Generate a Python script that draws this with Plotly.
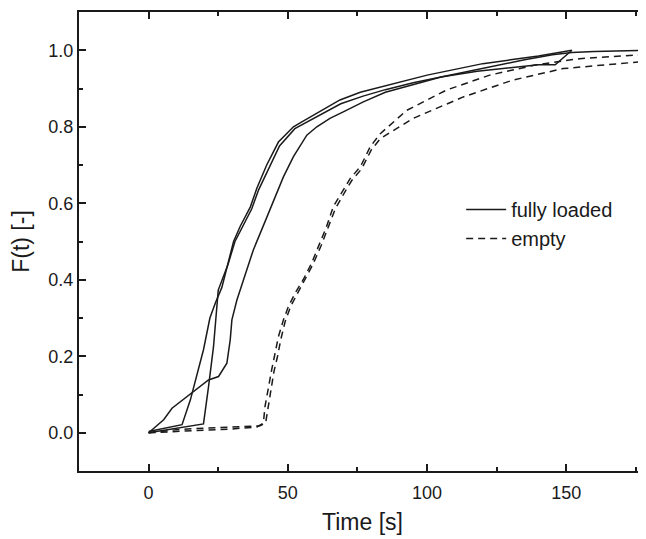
import plotly.graph_objects as go

# Fully loaded runs
t_s1 = [0, 12, 15, 17.3, 19.7, 22, 24, 26.3, 28.1, 30.5, 32.9, 36.5, 38.9, 42.4, 46.6, 52, 54.4, 60.4,
        68.7, 76, 84, 92, 100, 110, 120, 130, 140, 152]
f_s1 = [0.003, 0.021, 0.086, 0.147, 0.217, 0.30, 0.34, 0.38, 0.43, 0.50, 0.54, 0.59, 0.64, 0.70, 0.76,
        0.80, 0.81, 0.835, 0.87, 0.89, 0.905, 0.92, 0.935, 0.95, 0.965, 0.975, 0.985, 1.0]

t_s2 = [0, 10, 19.7, 21.5, 23.3, 25, 26.3, 28.5, 31, 33.5, 37, 39.5, 43, 47, 52.5, 55, 61, 69, 77, 85,
        95, 105, 118, 130, 140, 146, 152]
f_s2 = [0.0, 0.012, 0.023, 0.12, 0.225, 0.373, 0.40, 0.44, 0.50, 0.535, 0.585, 0.635, 0.69, 0.75, 0.795,
        0.805, 0.83, 0.86, 0.88, 0.897, 0.915, 0.93, 0.945, 0.955, 0.962, 0.962, 1.0]

t_s3 = [0, 2, 5.4, 8.4, 13, 17.9, 21.5, 25.1, 28.1, 29.3, 29.9, 31.7, 34.7, 37.6, 41.8, 44.8, 48.4, 52,
        56.8, 60.4, 65.1, 69.9, 77.1, 85, 95, 105, 115, 125, 135, 145, 152, 160, 170, 180]
f_s3 = [0.0, 0.012, 0.034, 0.064, 0.09, 0.117, 0.138, 0.147, 0.182, 0.243, 0.295, 0.347, 0.417, 0.478,
        0.552, 0.604, 0.669, 0.722, 0.778, 0.80, 0.822, 0.839, 0.865, 0.89, 0.91, 0.93, 0.945, 0.96,
        0.975, 0.988, 0.994, 0.997, 0.999, 1.0]

# Empty runs
t_d1 = [0, 10, 20, 30, 38.9, 41.2, 41.8, 43, 44.2, 45.4, 46.6, 48.4, 50.2, 52.6, 55.5, 58.5, 61.5, 63.9,
        66.3, 69.9, 72.4, 76, 79.6, 83.2, 92.7, 107, 122.5, 139.2, 154.8, 176.3, 180]
f_d1 = [0.0, 0.003, 0.006, 0.01, 0.015, 0.025, 0.069, 0.12, 0.165, 0.208, 0.251, 0.295, 0.33, 0.365, 0.40,
        0.443, 0.495, 0.539, 0.591, 0.634, 0.665, 0.695, 0.748, 0.782, 0.843, 0.896, 0.935, 0.962, 0.978,
        0.988, 0.99]

t_d2 = [0, 10, 20, 30, 40, 42, 42.8, 44, 45, 46.3, 47.5, 49, 51, 53.5, 56, 59, 62, 64.5, 67, 70.5, 73,
        76.5, 80, 83.2, 95, 113, 130.8, 148.8, 176.3, 180]
f_d2 = [0.0, 0.008, 0.012, 0.015, 0.018, 0.025, 0.06, 0.11, 0.16, 0.2, 0.245, 0.29, 0.33, 0.365, 0.40,
        0.44, 0.49, 0.535, 0.585, 0.63, 0.66, 0.69, 0.74, 0.769, 0.822, 0.878, 0.922, 0.952, 0.97, 0.972]

x_ticks = [0, 50, 100, 150]
y_ticks = [0.0, 0.2, 0.4, 0.6, 0.8, 1.0]
y_tick_text = ["0.0", "0.2", "0.4", "0.6", "0.8", "1.0"]

ink = "#1a1a1a"
fig = go.Figure()
solid = [(t_s1, f_s1), (t_s2, f_s2), (t_s3, f_s3)]
for i, (t, f) in enumerate(solid):
    fig.add_trace(go.Scatter(x=t, y=f, mode="lines", name="fully loaded", legendgroup="full",
                             showlegend=(i == 0), line=dict(color=ink, width=1.5)))
dashed = [(t_d1, f_d1), (t_d2, f_d2)]
for i, (t, f) in enumerate(dashed):
    fig.add_trace(go.Scatter(x=t, y=f, mode="lines", name="empty", legendgroup="empty",
                             showlegend=(i == 0), line=dict(color=ink, width=1.5, dash="7px,5px")))

font = "Liberation Sans, Arial, sans-serif"
# The page body has an 8px default margin; size the figure so the plot box lands where it should.
fig.update_layout(
    width=638, height=531,
    margin=dict(l=71, r=0, t=4, b=68),
    paper_bgcolor="white", plot_bgcolor="white",
    font=dict(family=font, size=18, color=ink),
    legend=dict(x=0.674, y=0.612, xanchor="left", yanchor="top", bgcolor="rgba(0,0,0,0)",
                font=dict(size=20), tracegroupgap=0, itemwidth=40),
)
fig.update_xaxes(
    range=[-25, 178.6], tickvals=x_ticks, ticks="inside", ticklen=7, tickwidth=1.5, tickcolor=ink,
    showline=True, linecolor=ink, linewidth=2, mirror="ticks", showgrid=False, zeroline=False,
    minor=dict(dtick=25, tick0=0, ticks="inside", ticklen=4, tickwidth=1.5, tickcolor=ink),
    title=dict(text="Time [s]", font=dict(size=23), standoff=12),
    tickfont=dict(size=18), ticklabelstandoff=4,
)
fig.update_yaxes(
    range=[-0.1, 1.1], tickvals=y_ticks, ticktext=y_tick_text, ticks="inside", ticklen=7, tickwidth=1.5,
    tickcolor=ink, showline=True, linecolor=ink, linewidth=2, mirror=False, showgrid=False,
    zeroline=False,
    minor=dict(dtick=0.1, tick0=0, ticks="inside", ticklen=4, tickwidth=1.5, tickcolor=ink),
    title=dict(text="F(t) [-]", font=dict(size=23), standoff=13),
    tickfont=dict(size=18),
)
fig.write_html("out.html")
